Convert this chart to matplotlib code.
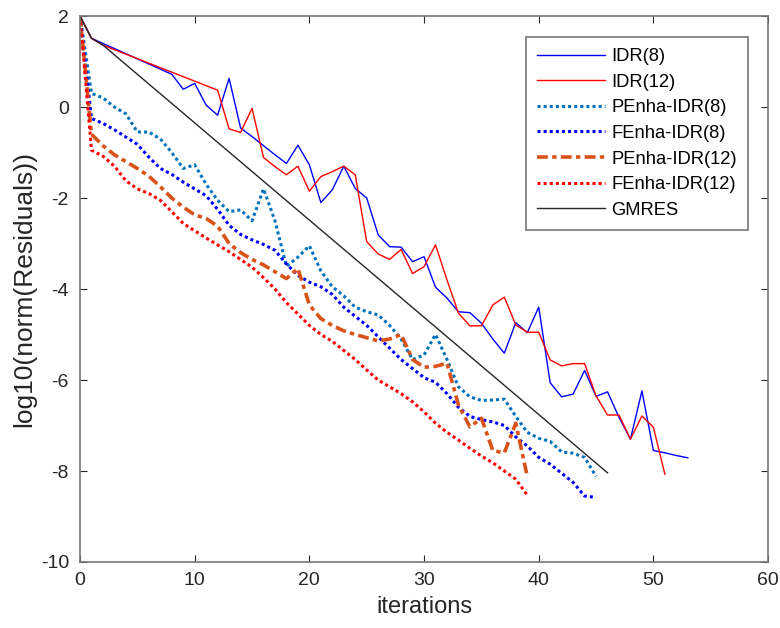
import matplotlib
matplotlib.use("Agg")
import matplotlib.pyplot as plt

# data
idr8_x = [0, 1, 8, 9, 10, 11, 12, 13, 14, 15, 16, 17, 18, 19, 20, 21, 22, 23, 24, 25,
          26, 27, 28, 29, 30, 31, 32, 33, 34, 35, 36, 37, 38, 39, 40, 41, 42, 43, 44,
          45, 46, 47, 48, 49, 50, 51, 52, 53]
idr8_y = [2.0, 1.51, 0.72, 0.39, 0.52, 0.04, -0.18, 0.63, -0.46, -0.65, -0.85, -1.05,
          -1.24, -0.84, -1.27, -2.10, -1.82, -1.30, -1.79, -2.0, -2.81, -3.07, -3.08,
          -3.40, -3.29, -3.96, -4.2, -4.5, -4.52, -4.75, -5.1, -5.41, -4.74, -4.96,
          -4.40, -6.06, -6.37, -6.31, -5.79, -6.36, -6.26, -6.82, -7.30, -6.24, -7.55,
          -7.60, -7.66, -7.71]

idr12_x = [0, 1, 2, 12, 13, 14, 15, 16, 17, 18, 19, 20, 21, 22, 23, 24, 25, 26, 27,
           28, 29, 30, 31, 32, 33, 34, 35, 36, 37, 38, 39, 40, 41, 42, 43, 44, 45, 46,
           47, 48, 49, 50, 51]
idr12_y = [2.0, 1.51, 1.36, 0.37, -0.48, -0.56, -0.03, -1.11, -1.31, -1.49, -1.30,
           -1.85, -1.53, -1.42, -1.30, -1.49, -2.96, -3.23, -3.35, -3.13, -3.66, -3.51,
           -3.03, -3.8, -4.53, -4.81, -4.81, -4.35, -4.18, -4.79, -4.95, -4.95, -5.56,
           -5.69, -5.64, -5.64, -6.35, -6.77, -6.77, -7.30, -6.79, -7.04, -8.07]

penha8_y = [2.0, 0.3, 0.2, 0.0, -0.15, -0.55, -0.55, -0.7, -1.0, -1.35, -1.27, -1.7,
            -2.05, -2.3, -2.26, -2.5, -1.8, -2.5, -3.5, -3.3, -3.05, -3.6, -3.95, -4.15,
            -4.4, -4.5, -4.57, -4.8, -5.1, -5.55, -5.45, -5.0, -5.55, -6.15, -6.37,
            -6.45, -6.44, -6.42, -6.8, -7.15, -7.28, -7.35, -7.58, -7.61, -7.7, -8.12]

fenha8_y = [2.0, -0.25, -0.36, -0.5, -0.66, -0.82, -1.1, -1.35, -1.48, -1.65, -1.8,
            -1.95, -2.25, -2.6, -2.8, -2.92, -3.02, -3.15, -3.45, -3.7, -3.85, -3.95,
            -4.12, -4.4, -4.6, -4.8, -5.05, -5.3, -5.55, -5.75, -5.95, -6.05, -6.3,
            -6.6, -6.8, -6.87, -6.92, -7.0, -7.25, -7.45, -7.7, -7.85, -8.05, -8.25,
            -8.55, -8.58]

penha12_y = [2.0, -0.6, -0.85, -1.05, -1.2, -1.35, -1.52, -1.75, -2.0, -2.2, -2.37,
             -2.45, -2.62, -3.0, -3.2, -3.35, -3.47, -3.62, -3.77, -3.55, -4.35, -4.65,
             -4.8, -4.92, -5.0, -5.07, -5.14, -5.1, -5.0, -5.55, -5.72, -5.7, -5.63,
             -6.55, -7.03, -6.84, -7.55, -7.6, -6.95, -8.12]

fenha12_y = [2.0, -0.95, -1.08, -1.3, -1.62, -1.8, -1.9, -2.05, -2.3, -2.56, -2.72,
             -2.88, -3.03, -3.18, -3.35, -3.52, -3.75, -4.0, -4.3, -4.55, -4.8, -5.0,
             -5.15, -5.35, -5.55, -5.78, -6.0, -6.15, -6.3, -6.48, -6.7, -6.95, -7.15,
             -7.32, -7.5, -7.67, -7.82, -8.0, -8.18, -8.53]

gmres_x = [0, 1, 2, 46]
gmres_y = [2.0, 1.51, 1.36, -8.04]

x_ticks = [0, 10, 20, 30, 40, 50, 60]
y_ticks = [-10, -8, -6, -4, -2, 0, 2]

plt.rcParams['font.family'] = ['Liberation Sans', 'DejaVu Sans']
plt.rcParams['axes.unicode_minus'] = False

fig = plt.figure(figsize=(7.8, 6.28), dpi=100)
ax = fig.add_axes([0.1026, 0.1051, 0.8821, 0.8694])

ax.plot(idr8_x, idr8_y, color='#0000FF', lw=1.0, label='IDR(8)')
ax.plot(idr12_x, idr12_y, color='#FF0000', lw=1.0, label='IDR(12)')
ax.plot(range(len(penha8_y)), penha8_y, color='#0072BD', lw=2.2,
        ls=(0, (1, 1)), label='PEnha-IDR(8)')
ax.plot(range(len(fenha8_y)), fenha8_y, color='#0000FF', lw=2.2,
        ls=(0, (1, 1)), label='FEnha-IDR(8)')
ax.plot(range(len(penha12_y)), penha12_y, color='#D95319', lw=2.6,
        ls=(0, (3, 1.2, 1.2, 1.2)), label='PEnha-IDR(12)')
ax.plot(range(len(fenha12_y)), fenha12_y, color='#FF0000', lw=2.2,
        ls=(0, (1, 1)), label='FEnha-IDR(12)')
ax.plot(gmres_x, gmres_y, color='#262626', lw=1.0, label='GMRES')

ax.set_xlim(0, 60)
ax.set_ylim(-10, 2)
ax.set_xticks(x_ticks)
ax.set_yticks(y_ticks)
ax.tick_params(direction='in', length=5, width=0.8, top=True, right=True,
               labelsize=14, colors='#262626')
ax.tick_params(axis='y', pad=8)
ax.tick_params(axis='x', pad=7)
for s in ax.spines.values():
    s.set_color('#777777')
    s.set_linewidth(1.2)

ax.set_xlabel('iterations', fontsize=17, color='#262626', labelpad=5)
ax.set_ylabel('log10(norm(Residuals))', fontsize=19, color='#262626', labelpad=3)

leg = ax.legend(loc='upper right', bbox_to_anchor=(0.9705, 0.9615),
                borderaxespad=0, handlelength=3.7, labelspacing=0.47,
                fancybox=False, framealpha=1, edgecolor='#777777',
                handletextpad=0.35, borderpad=0.6, fontsize=13.2)
leg.get_frame().set_linewidth(1.2)

fig.savefig('out.png', dpi=100)
